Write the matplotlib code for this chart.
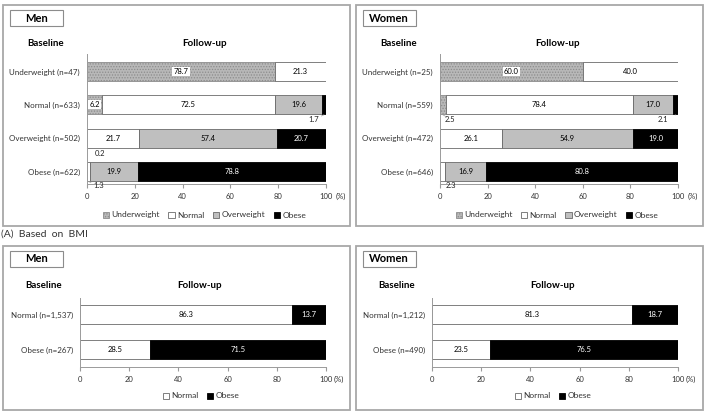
import matplotlib.pyplot as plt
from matplotlib.patches import Rectangle, Patch

plt.rcParams['font.family'] = ['Lato', 'DejaVu Sans']
plt.rcParams['hatch.linewidth'] = 0.6

W, H = 706, 413

# data (A) BMI, 4 groups
bmi_groups = ['Underweight', 'Normal', 'Overweight', 'Obese']
men_bmi_rows = ['Underweight (n=47)', 'Normal (n=633)', 'Overweight (n=502)', 'Obese (n=622)']
men_under = [78.7, 6.2, 0.2, 0.0]
men_normal = [21.3, 72.5, 21.7, 1.3]
men_over = [0.0, 19.6, 57.4, 19.9]
men_obese = [0.0, 1.7, 20.7, 78.8]

women_bmi_rows = ['Underweight (n=25)', 'Normal (n=559)', 'Overweight (n=472)', 'Obese (n=646)']
women_under = [60.0, 2.5, 0.0, 0.0]
women_normal = [40.0, 78.4, 26.1, 2.3]
women_over = [0.0, 17.0, 54.9, 16.9]
women_obese = [0.0, 2.1, 19.0, 80.8]

# second panel: normal / obese
men_wc_rows = ['Normal (n=1,537)', 'Obese (n=267)']
men_wc_normal = [86.3, 28.5]
men_wc_obese = [13.7, 71.5]
women_wc_rows = ['Normal (n=1,212)', 'Obese (n=490)']
women_wc_normal = [81.3, 23.5]
women_wc_obese = [18.7, 76.5]

xticks = [0, 20, 40, 60, 80, 100]

styles = {
    'Underweight': dict(color='#b8b8b8', hatch='......', edge='#8c8c8c', txt='black'),
    'Normal': dict(color='white', hatch=None, edge='#6a6a6a', txt='black'),
    'Overweight': dict(color='#bfbfbf', hatch=None, edge='#6a6a6a', txt='black'),
    'Obese': dict(color='black', hatch=None, edge='black', txt='white'),
}

fig = plt.figure(figsize=(W / 100, H / 100), dpi=100)


def fx(x):
    return x / W


def fy(y):
    return 1 - y / H


def frame(x0, y0, x1, y1, title):
    fig.patches.append(Rectangle((fx(x0), fy(y1)), fx(x1) - fx(x0), fy(y0) - fy(y1),
                                 transform=fig.transFigure, fill=False,
                                 edgecolor='#a8a8a8', linewidth=1.3))
    bx, by = x0 + 7, y0 + 5
    fig.patches.append(Rectangle((fx(bx), fy(by + 16)), fx(53), 16 / H,
                                 transform=fig.transFigure, fill=False,
                                 edgecolor='#8c8c8c', linewidth=0.8))
    fig.text(fx(bx + 26), fy(by + 8), title, ha='center', va='center',
             fontsize=8, fontweight='bold')


def panel(ax_box, rows, series, names, ylim, height, small, boxed, legend_y, pct_dx):
    x0, y0, x1, y1 = ax_box
    ax = fig.add_axes([fx(x0), fy(y1), fx(x1) - fx(x0), fy(y0) - fy(y1)])
    ypos = list(range(len(rows)))
    left = [0.0] * len(rows)
    for vals, name in zip(series, names):
        st = styles[name]
        ax.barh(ypos, vals, left=left, height=height, color=st['color'],
                edgecolor=st['edge'], linewidth=0.6, hatch=st['hatch'])
        for i, v in enumerate(vals):
            if v <= 0:
                continue
            c = left[i] + v / 2
            if (name, i) in small:
                dx, dy = small[(name, i)]
                ax.annotate(f'{v:.1f}', xy=(c, i + height / 2 + 0.02),
                            xytext=(c + dx, i + height / 2 + dy), fontsize=5.5,
                            ha='center', va='center', color='#222222',
                            arrowprops=dict(arrowstyle='-', color='#a0a0a0', lw=0.5,
                                            shrinkA=3, shrinkB=0))
            else:
                bb = dict(boxstyle='square,pad=0.15', fc='white', ec='none') if (name, i) in boxed else None
                ax.text(c, i, f'{v:.1f}', ha='center', va='center', fontsize=5.5,
                        color=st['txt'], bbox=bb)
            left[i] += v
    ax.set_xlim(0, 100)
    ax.set_ylim(*ylim)
    ax.set_yticks(ypos)
    ax.set_yticklabels(rows, fontsize=5.8, color='#333333')
    ax.set_xticks(xticks)
    ax.set_xticklabels([str(t) for t in xticks], fontsize=5.5, color='#333333')
    ax.annotate('(%)', xy=(100, 0), xycoords=ax.get_xaxis_transform(),
                xytext=(pct_dx, -6.5), textcoords='offset points', fontsize=5.5,
                ha='left', va='top', color='#333333')
    for s in ['top', 'right']:
        ax.spines[s].set_visible(False)
    for s in ['left', 'bottom']:
        ax.spines[s].set_color('#9a9a9a')
        ax.spines[s].set_linewidth(0.7)
    ax.tick_params(axis='y', length=0, pad=5)
    ax.tick_params(axis='x', length=3, color='#9a9a9a', pad=3.5, direction='out')
    handles = [Patch(facecolor=styles[n]['color'], edgecolor=styles[n]['edge'],
                     hatch=styles[n]['hatch'], linewidth=0.6, label=n)
               for n in bmi_groups if n in names]
    fig.legend(handles=handles, loc='center', bbox_to_anchor=(fx((x0 + x1) / 2 - 2), fy(legend_y)),
               ncol=len(handles), frameon=False, fontsize=6, handlelength=0.75,
               handleheight=0.75, handletextpad=0.3, columnspacing=1.0,
               labelcolor='#333333')
    return ax


bmi_names = ['Underweight', 'Normal', 'Overweight', 'Obese']
wc_names = ['Normal', 'Obese']

# frames
frame(3, 5, 350, 226, 'Men')
frame(356, 5, 703, 226, 'Women')
frame(3, 246, 350, 410, 'Men')
frame(356, 246, 703, 410, 'Women')

# headers
for bx in [46, 399]:
    fig.text(fx(bx), fy(43), 'Baseline', ha='center', va='center', fontsize=7, fontweight='bold')
    fig.text(fx(bx + 159), fy(43), 'Follow-up', ha='center', va='center', fontsize=7, fontweight='bold')
for bx in [44, 397]:
    fig.text(fx(bx), fy(286), 'Baseline', ha='center', va='center', fontsize=7, fontweight='bold')
    fig.text(fx(bx + 156), fy(286), 'Follow-up', ha='center', va='center', fontsize=7, fontweight='bold')

top_ylim = (3.37, -0.52)
panel((87, 54, 326, 184), men_bmi_rows, [men_under, men_normal, men_over, men_obese], bmi_names,
      top_ylim, 0.56,
      small={('Obese', 1): (-4.5, 0.17), ('Underweight', 2): (5.3, 0.18), ('Normal', 3): (4.4, 0.12)},
      boxed={('Underweight', 0), ('Underweight', 1)}, legend_y=215, pct_dx=7)
panel((440, 54, 678, 184), women_bmi_rows, [women_under, women_normal, women_over, women_obese], bmi_names,
      top_ylim, 0.56,
      small={('Underweight', 1): (3, 0.15), ('Obese', 1): (-5.2, 0.15), ('Normal', 3): (3.5, 0.12)},
      boxed={('Underweight', 0)}, legend_y=215, pct_dx=7)

bot_ylim = (1.5, -0.47)
panel((80, 298, 326, 367), men_wc_rows, [men_wc_normal, men_wc_obese], wc_names,
      bot_ylim, 0.54, small={}, boxed=set(), legend_y=396, pct_dx=5.5)
panel((432, 298, 678, 367), women_wc_rows, [women_wc_normal, women_wc_obese], wc_names,
      bot_ylim, 0.54, small={}, boxed=set(), legend_y=396, pct_dx=5.5)

fig.text(fx(1), fy(234), '(A)  Based  on  BMI', ha='left', va='center', fontsize=7.5, color='#333333')

fig.savefig('out.png', dpi=100)
